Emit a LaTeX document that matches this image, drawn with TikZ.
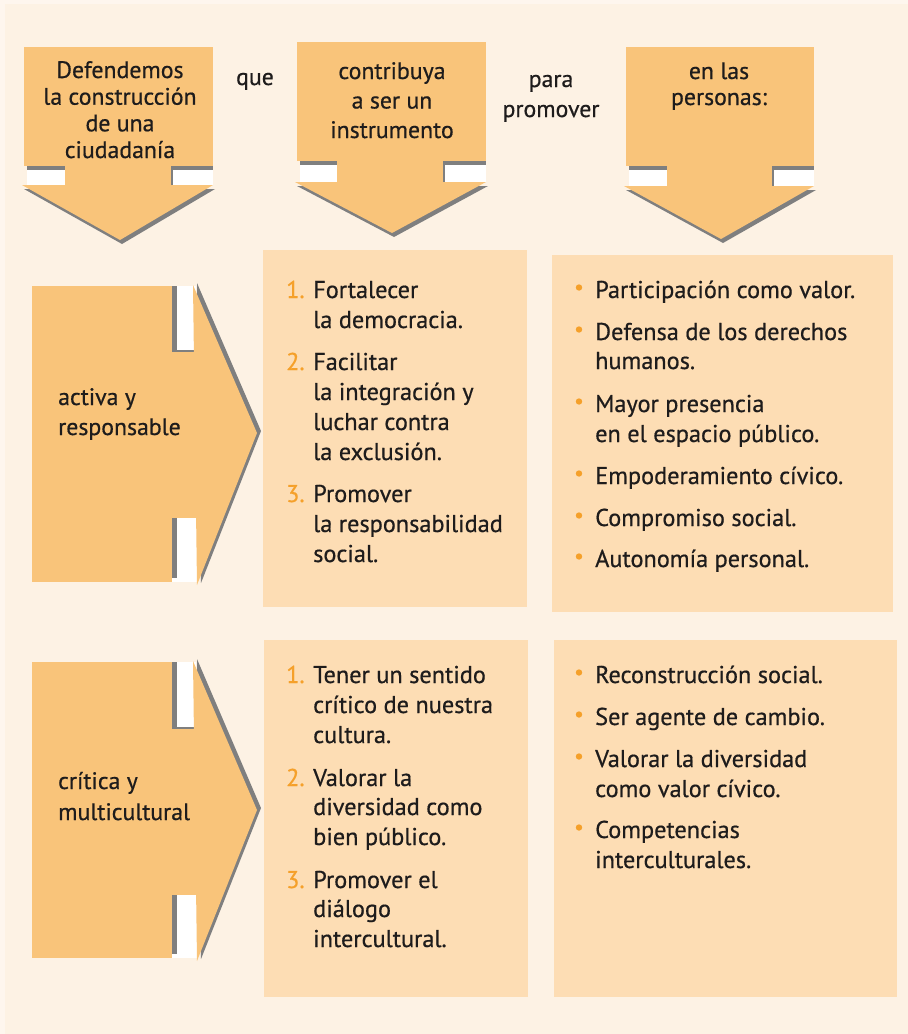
\documentclass[tikz,border=0pt]{standalone}
\usepackage{fontspec}
\setmainfont{PT Sans}[FakeBold=0.6]
\newfontfamily\thickfont{PT Sans}[FakeBold=0.6]
\definecolor{bgc}{HTML}{FDF2E4}
\definecolor{bgouter}{HTML}{FEF6EE}
\definecolor{arrowc}{HTML}{F9C47A}
\definecolor{panelc}{HTML}{FDDDB4}
\definecolor{shadowc}{HTML}{7F7F7F}
\definecolor{markc}{HTML}{F5A02A}
\definecolor{textc}{HTML}{1E1C1C}
\tikzset{
  lbl/.style={font=\thickfont\fontsize{23.8}{27}\selectfont, text=textc, inner sep=0pt, anchor=base},
  sidelbl/.style={font=\thickfont\fontsize{23.8}{27}\selectfont, text=textc, inner sep=0pt, anchor=base west},
  itemtxt/.style={font=\thickfont\fontsize{24.3}{30}\selectfont, text=textc, inner sep=0pt, anchor=base west},
  numtxt/.style={font=\fontsize{24.3}{30}\selectfont, text=markc, inner sep=0pt, anchor=base west},
  panel/.style={fill=panelc},
}
% top arrow: L R T B sL sR H tipx tipy
\newcommand\toparrowshape[9]{%
  \fill[white] (#1+3,#4) rectangle (#5,#7);
  \fill[white] (#6,#4) rectangle (#2,#7);
  \fill[shadowc] (#1+3,#4-1) rectangle (#2,#4+4);
  \fill[shadowc] (#6,#4) rectangle (#6+2,#7+4);
  \fill[shadowc] (#1,#7+4) -- (#2+2,#7+4) -- (#8+2,#9+4) -- cycle;
  \fill[arrowc] (#1,#3) rectangle (#2,#4);
  \fill[arrowc] (#5,#4-1) rectangle (#6,#7+1);
  \fill[arrowc] (#1-2,#7) -- (#2,#7) -- (#8,#9) -- cycle;
}
% side arrow: L R T B st sb hx tipx tipy
\newcommand\sidearrowshape[9]{%
  \fill[white] (#2,#3) rectangle (#7+3,#5);
  \fill[white] (#2,#6) rectangle (#7+4,#4);
  \fill[shadowc] (#2-1,#3) rectangle (#2+5,#4-4);
  \fill[shadowc] (#2,#5-2) rectangle (#7+2,#5);
  \fill[shadowc] (#7+4,#3-3) -- (#8+4,#9-2) -- (#7+8,#4+1) -- cycle;
  \fill[arrowc] (#1,#3) rectangle (#2,#4);
  \fill[arrowc] (#2-1,#5) rectangle (#7+6,#6);
  \fill[arrowc] (#7,#3-1) -- (#8,#9) -- (#7+4,#4+3) -- cycle;
}
\newcommand\bulletdot[2]{\fill[markc] (#1,#2-10.5) circle (3.2);}
\begin{document}
\begin{tikzpicture}[x=1pt,y=-1pt]
\useasboundingbox (0,0) rectangle (908,1034);
\fill[bgouter] (0,0) rectangle (908,1034);
\fill[bgc] (5,4) rectangle (908,1034);

% top arrows
\toparrowshape{24}{213}{47}{166}{65}{171}{185}{120}{240}
\toparrowshape{297}{486}{42}{161}{337}{443}{182}{392}{233}
\toparrowshape{626}{814}{47}{166}{667}{772}{186}{721}{239}

\node[lbl] (t1a) at (120,78) {Defendemos};
\node[lbl] (t1b) at (120,104.7) {la construcción};
\node[lbl] (t1c) at (120,131.3) {de una};
\node[lbl] (t1d) at (120,158) {ciudadanía};
\node[lbl] (que) at (255,85) {que};
\node[lbl] (t2a) at (392,79) {contribuya};
\node[lbl] (t2b) at (392,108.5) {a ser un};
\node[lbl] (t2c) at (392,138) {instrumento};
\node[lbl] (para) at (551,87) {para};
\node[lbl] (prom) at (551,117) {promover};
\node[lbl] (t3a) at (719,79) {en las};
\node[lbl] (t3b) at (719,105) {personas:};

% side arrows
\sidearrowshape{32}{172}{286}{582}{352}{518}{193}{257}{433}
\sidearrowshape{32}{172}{662}{958}{729}{895}{193}{257}{810}
\node[sidelbl] (s1a) at (58,405) {activa y};
\node[sidelbl] (s1b) at (58,435) {responsable};
\node[sidelbl] (s2a) at (58,789) {crítica y};
\node[sidelbl] (s2b) at (58,820) {multicultural};

% panels
\fill[panel] (263,250) rectangle (527,607);
\fill[panel] (552,255) rectangle (893,612);
\fill[panel] (264,640) rectangle (528,997);
\fill[panel] (554,640) rectangle (897,997);

% panel A
\node[numtxt] (an1) at (286,298) {1.};
\node[itemtxt] (a1a) at (313,298) {Fortalecer};
\node[itemtxt] (a1b) at (313,328) {la democracia.};
\node[numtxt] (an2) at (286,370) {2.};
\node[itemtxt] (a2a) at (313,370) {Facilitar};
\node[itemtxt] (a2b) at (313,400) {la integración y};
\node[itemtxt] (a2c) at (313,430) {luchar contra};
\node[itemtxt] (a2d) at (313,460) {la exclusión.};
\node[numtxt] (an3) at (286,502) {3.};
\node[itemtxt] (a3a) at (313,502) {Promover};
\node[itemtxt] (a3b) at (313,532) {la responsabilidad};
\node[itemtxt] (a3c) at (313,562) {social.};

% panel B
\bulletdot{579}{298}
\node[itemtxt] (b1) at (595,298) {Participación como valor.};
\bulletdot{579}{340}
\node[itemtxt] (b2a) at (595,340) {Defensa de los derechos};
\node[itemtxt] (b2b) at (595,369) {humanos.};
\bulletdot{579}{412}
\node[itemtxt] (b3a) at (595,412) {Mayor presencia};
\node[itemtxt] (b3b) at (595,442) {en el espacio público.};
\bulletdot{579}{484}
\node[itemtxt] (b4) at (595,484) {Empoderamiento cívico.};
\bulletdot{579}{526}
\node[itemtxt] (b5) at (595,526) {Compromiso social.};
\bulletdot{579}{567}
\node[itemtxt] (b6) at (595,567) {Autonomía personal.};

% panel C
\node[numtxt] (cn1) at (286,683) {1.};
\node[itemtxt] (c1a) at (313,683) {Tener un sentido};
\node[itemtxt] (c1b) at (313,713) {crítico de nuestra};
\node[itemtxt] (c1c) at (313,743) {cultura.};
\node[numtxt] (cn2) at (286,786) {2.};
\node[itemtxt] (c2a) at (313,786) {Valorar la};
\node[itemtxt] (c2b) at (313,815) {diversidad como};
\node[itemtxt] (c2c) at (313,845) {bien público.};
\node[numtxt] (cn3) at (286,888) {3.};
\node[itemtxt] (c3a) at (313,888) {Promover el};
\node[itemtxt] (c3b) at (313,917) {diálogo};
\node[itemtxt] (c3c) at (313,947) {intercultural.};

% panel D
\bulletdot{579}{683}
\node[itemtxt] (d1) at (595,683) {Reconstrucción social.};
\bulletdot{579}{725}
\node[itemtxt] (d2) at (595,725) {Ser agente de cambio.};
\bulletdot{579}{767}
\node[itemtxt] (d3a) at (595,767) {Valorar la diversidad};
\node[itemtxt] (d3b) at (595,797) {como valor cívico.};
\bulletdot{579}{838}
\node[itemtxt] (d4a) at (595,838) {Competencias};
\node[itemtxt] (d4b) at (595,868) {interculturales.};
\end{tikzpicture}
\end{document}
